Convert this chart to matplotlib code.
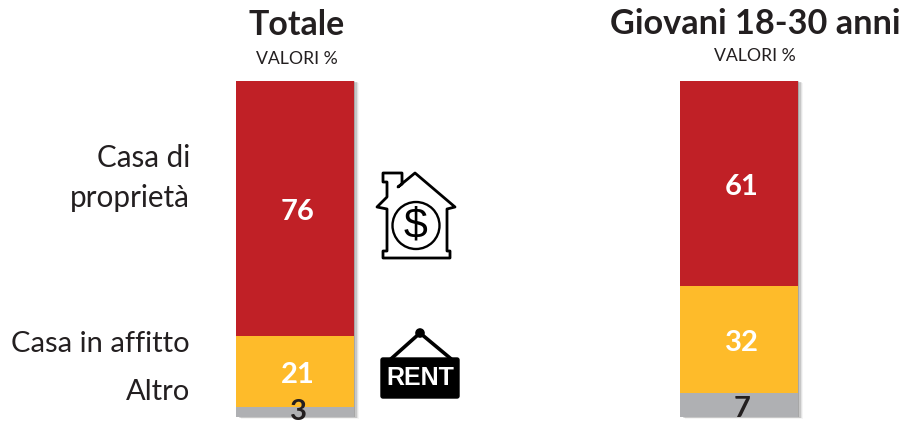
import matplotlib
matplotlib.use("Agg")
import matplotlib.pyplot as plt
import matplotlib.patheffects as pe
from matplotlib.patches import Circle, FancyBboxPatch, Polygon

plt.rcParams['font.family'] = ['Lato', 'DejaVu Sans']

categorie = ["Casa di proprietà", "Casa in affitto", "Altro"]
totale = [76, 21, 3]
giovani = [61, 32, 7]
colori = ["#c02026", "#febb2a", "#afb0b3"]
col_numeri = ["white", "white", "#231f20"]
scuro = "#231f20"

W, H = 902, 423
fig = plt.figure(figsize=(W / 100, H / 100), dpi=100)


def colonna(valori, x0, larg):
    # asse in pixel: base a y=417, alto 336 px
    ax = fig.add_axes([x0 / W, (H - 417) / H, larg / W, 336 / H])
    ax.set_xlim(-0.5, 0.5)
    ax.set_ylim(0, 100)
    ax.axis("off")
    basi = [sum(valori[i + 1:]) for i in range(len(valori))]
    # ombra sfumata sotto tutta la colonna
    ombra = ax.bar(0, sum(valori), width=1, color="white", clip_on=False, zorder=1)[0]
    ombra.set_path_effects([
        pe.SimplePatchShadow(offset=(3.4, -1.2), shadow_rgbFace="#000000", alpha=0.04),
        pe.SimplePatchShadow(offset=(2.6, -0.9), shadow_rgbFace="#000000", alpha=0.07),
        pe.SimplePatchShadow(offset=(1.8, -0.6), shadow_rgbFace="#000000", alpha=0.12),
        pe.SimplePatchShadow(offset=(1.0, -0.3), shadow_rgbFace="#000000", alpha=0.16),
        pe.Normal(),
    ])
    for v, b, c, cn in zip(valori, basi, colori, col_numeri):
        ax.bar(0, v, bottom=b, width=1, color=c, zorder=2)
        # il 3 sta in fondo alla figura: niente spostamento in basso
        dy = 0 if v <= 3 else -2.6
        ax.annotate(str(v), (0, b + v / 2), xytext=(2.2, dy), textcoords="offset points",
                    ha="center", va="center", color=cn, fontsize=21,
                    fontweight="bold", zorder=3, annotation_clip=False)
    return ax


colonna(totale, 236, 118)
colonna(giovani, 680, 118)

# livello in pixel per testi e icone
ov = fig.add_axes([0, 0, 1, 1], zorder=5)
ov.set_xlim(0, W)
ov.set_ylim(H, 0)
ov.axis("off")
ov.patch.set_alpha(0)

ov.text(297, 25, "Totale", ha="center", va="center", fontsize=24.4, fontweight="bold", color=scuro)
ov.text(755, 24, "Giovani 18-30 anni", ha="center", va="center", fontsize=24.7, fontweight="bold", color=scuro)
ov.text(297, 59, "VALORI %", ha="center", va="center", fontsize=12.7, color=scuro)
ov.text(755, 56, "VALORI %", ha="center", va="center", fontsize=12.7, color=scuro)

ov.text(190, 158, "Casa di", ha="right", va="center", fontsize=21.3, color=scuro)
ov.text(190, 198, "proprietà", ha="right", va="center", fontsize=21.3, color=scuro)
ov.text(190, 344, categorie[1], ha="right", va="center", fontsize=21, color=scuro)
ov.text(190, 392, categorie[2], ha="right", va="center", fontsize=21, color=scuro)

# icona casa
casa = [(398, 187), (415, 173), (455, 207), (447, 209), (447, 251), (450, 251),
        (450, 258), (383, 258), (383, 251), (387, 251), (387, 209), (377, 207),
        (387, 197), (387, 182), (383, 182), (383, 173), (402, 173), (402, 184)]
ov.add_patch(Polygon(casa, closed=True, fc="white", ec="black", lw=2, joinstyle="round"))
ov.add_patch(Circle((416, 225.5), 23.5, fc="white", ec="black", lw=1.7))
ov.text(416, 226, "$", ha="center", va="center", fontsize=31, color="black",
        family="Liberation Sans")

# cartello RENT
ov.plot([392, 420, 450], [358, 333, 358], color="black", lw=2.6)
ov.add_patch(Circle((420, 333), 4.8, fc="black", ec="none"))
ov.add_patch(FancyBboxPatch((381, 358), 78, 40, boxstyle="round,pad=0,rounding_size=2",
                            fc="black", ec="black", lw=1))
ov.text(420, 378, "RENT", ha="center", va="center", fontsize=18, fontweight="bold",
        color="white", family="Liberation Sans")

fig.savefig("out.png", dpi=100)
